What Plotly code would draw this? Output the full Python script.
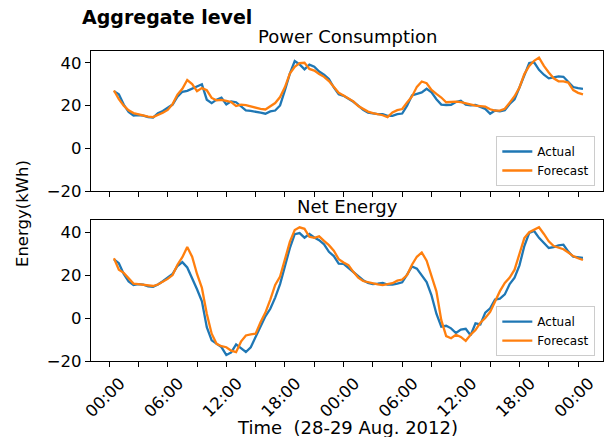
import plotly.graph_objects as go
from plotly.subplots import make_subplots

# ---------------- data (half-hourly, 28-29 Aug 2012) ----------------
pc_actual = [26.8, 25.3, 20.5, 17.0, 15.4, 15.6, 15.3, 14.6, 14.4, 16.4,
             17.5, 19.1, 20.5, 24.2, 26.5, 26.9, 28.0, 28.8, 30.0, 22.8,
             21.2, 22.8, 23.7, 20.6, 22.0, 21.6, 19.5, 17.8, 17.5, 17.2,
             16.7, 16.2, 17.3, 17.7, 20.1, 27.2, 35.0, 40.9, 39.3, 37.0,
             39.2, 38.2, 36.0, 34.5, 32.5, 28.5, 25.3, 24.6, 23.3, 21.8,
             20.0, 18.0, 16.7, 16.2, 16.0, 16.0, 15.2, 15.2, 16.0, 16.3,
             20.0, 24.8, 25.6, 26.2, 27.9, 26.2, 23.0, 20.5, 20.3, 20.4,
             21.7, 22.3, 20.5, 20.1, 20.3, 19.4, 18.5, 16.2, 17.7, 17.3,
             17.8, 20.8, 23.0, 28.5, 34.5, 40.0, 40.3, 36.8, 34.5, 32.8,
             33.2, 33.7, 33.5, 31.2, 28.7, 28.2, 27.9]
pc_forecast = [27.1, 23.0, 20.0, 17.8, 16.5, 15.9, 15.6, 14.8, 14.6, 15.5,
               16.7, 18.0, 20.7, 25.2, 27.9, 32.0, 30.1, 26.8, 28.2, 27.2,
               23.6, 22.5, 22.7, 22.2, 21.7, 19.8, 20.5, 20.2, 19.6, 19.0,
               18.5, 18.2, 19.6, 21.2, 24.0, 28.7, 35.0, 38.2, 39.9, 40.1,
               37.2, 36.4, 34.8, 33.5, 31.5, 29.0, 26.0, 24.7, 23.5, 22.0,
               19.8, 18.3, 17.2, 16.5, 16.1, 15.5, 14.6, 16.8, 17.9, 18.4,
               21.5, 24.3, 28.8, 31.3, 30.5, 27.4, 25.5, 23.8, 21.6, 21.9,
               21.9, 21.6, 21.1, 20.3, 20.0, 19.8, 19.5, 18.3, 17.7, 17.7,
               18.5, 21.4, 24.4, 28.5, 34.8, 38.6, 41.0, 42.5, 38.6, 35.5,
               32.8, 31.4, 31.4, 30.8, 27.3, 26.0, 25.3]
ne_actual = [27.3, 25.5, 20.5, 17.0, 15.3, 15.8, 15.5, 14.7, 14.5, 15.6,
             17.1, 18.7, 20.5, 24.2, 26.0, 23.5, 18.7, 13.4, 7.8, -4.3,
             -10.4, -12.0, -13.5, -17.2, -16.0, -12.3, -14.0, -15.8, -13.6, -9.0,
             -4.3, 0.8, 4.3, 9.5, 15.8, 23.8, 32.5, 39.0, 39.5, 37.4,
             39.1, 37.5, 36.2, 34.3, 30.8, 28.8, 25.3, 25.2, 23.3, 21.5,
             19.5, 17.6, 16.3, 15.8, 16.0, 16.3, 15.5, 15.5, 16.0, 16.6,
             20.2, 24.0, 23.0, 19.8, 16.7, 10.5, 2.0, -4.0, -3.6, -4.8,
             -7.0, -5.4, -5.0, -8.0, -2.5, -3.0, 2.5, 4.5, 8.6, 9.0,
             11.0, 15.8, 18.8, 24.5, 33.5, 39.6, 40.5, 37.3, 35.1, 32.6,
             33.0, 33.8, 34.1, 30.9, 28.5, 28.2, 28.0]
ne_forecast = [27.8, 22.5, 21.0, 18.5, 16.0, 15.8, 15.5, 15.2, 14.9, 15.6,
               16.8, 18.2, 20.0, 24.8, 28.3, 33.0, 28.5, 20.5, 14.0, 2.0,
               -7.3, -12.0, -13.1, -13.6, -15.2, -15.9, -11.0, -8.1, -7.6, -7.3,
               -2.0, 2.5, 8.6, 15.4, 19.3, 27.8, 35.4, 40.9, 42.2, 41.5,
               37.8, 37.3, 38.0, 35.9, 33.9, 31.3, 27.4, 25.8, 24.6, 21.5,
               18.8, 17.2, 16.6, 16.0, 15.6, 15.3, 15.6, 16.2, 17.4, 17.9,
               20.0, 24.8, 28.5, 30.5, 26.7, 19.5, 12.4, -1.0, -8.4, -9.4,
               -7.8, -8.8, -10.6, -7.8, -5.6, -2.2, 0.0, 2.8, 7.6, 12.5,
               16.3, 18.8, 22.5, 30.3, 37.2, 39.9, 41.0, 42.2, 39.1, 35.7,
               33.5, 32.8, 32.0, 30.5, 28.8, 27.8, 27.0]

time_h = [0.5 * i for i in range(len(pc_actual))]  # hours since start

tick_pos = [-0.5 + 3 * k for k in range(17)]
tick_labels = ["00:00", "", "06:00", "", "12:00", "", "18:00", "",
               "00:00", "", "06:00", "", "12:00", "", "18:00", "", "00:00"]
y_ticks = [-20, 0, 20, 40]

BLUE = "#1f77b4"
ORANGE = "#ff7f0e"
FONT = "DejaVu Sans"

fig = make_subplots(rows=2, cols=1, shared_xaxes=True)

fig.add_trace(go.Scatter(x=time_h, y=pc_actual, mode="lines", name="Actual",
                         line=dict(color=BLUE, width=2.3), legend="legend"), row=1, col=1)
fig.add_trace(go.Scatter(x=time_h, y=pc_forecast, mode="lines", name="Forecast",
                         line=dict(color=ORANGE, width=2.3), legend="legend"), row=1, col=1)
fig.add_trace(go.Scatter(x=time_h, y=ne_actual, mode="lines", name="Actual",
                         line=dict(color=BLUE, width=2.3), legend="legend2"), row=2, col=1)
fig.add_trace(go.Scatter(x=time_h, y=ne_forecast, mode="lines", name="Forecast",
                         line=dict(color=ORANGE, width=2.3), legend="legend2"), row=2, col=1)

axis_common = dict(showline=True, linecolor="black", linewidth=1.3, mirror=True,
                   ticks="outside", ticklen=5, tickwidth=1.2, tickcolor="black",
                   showgrid=False, zeroline=False,
                   tickfont=dict(family=FONT, size=16.5, color="black"))

fig.update_xaxes(range=[-2.35, 50.05], tickmode="array", tickvals=tick_pos,
                 ticktext=tick_labels, **axis_common)
fig.update_xaxes(showticklabels=False, row=1, col=1)
fig.update_xaxes(tickangle=-45, ticklabelshift=11, row=2, col=1)
fig.update_yaxes(range=[-20, 45.6], tickmode="array", tickvals=y_ticks, **axis_common)

fig.update_layout(
    xaxis=dict(domain=[0, 1]),
    yaxis=dict(domain=[0.5484, 1.0]),
    yaxis2=dict(domain=[0.0, 0.4548]),
)

legend_common = dict(bgcolor="rgba(255,255,255,0.8)", bordercolor="#cccccc", borderwidth=1,
                     font=dict(family=FONT, size=12, color="black"),
                     xanchor="right", yanchor="bottom", tracegroupgap=0)

fig.update_layout(
    width=604, height=437,
    margin=dict(l=91, r=1, t=51, b=76),
    paper_bgcolor="white", plot_bgcolor="white",
    font=dict(family=FONT, color="black"),
    legend=dict(x=0.985, y=0.5645, **legend_common),
    legend2=dict(x=0.985, y=0.016, **legend_common),
    annotations=[
        dict(text="<b>Aggregate level</b>", xref="paper", yref="paper", x=-0.0215, y=1.11,
             xanchor="left", yanchor="middle", showarrow=False,
             font=dict(family=FONT, size=19, color="black")),
        dict(text="Power Consumption", xref="paper", yref="paper", x=0.5, y=1.048,
             xanchor="center", yanchor="middle", showarrow=False,
             font=dict(family=FONT, size=18, color="black")),
        dict(text="Net Energy", xref="paper", yref="paper", x=0.5, y=0.497,
             xanchor="center", yanchor="middle", showarrow=False,
             font=dict(family=FONT, size=18, color="black")),
        dict(text="Energy(kWh)", xref="paper", yref="paper", x=-0.135, y=0.477,
             xanchor="center", yanchor="middle", showarrow=False, textangle=-90,
             font=dict(family=FONT, size=16.5, color="black")),
        dict(text="Time  (28-29 Aug. 2012)", xref="paper", yref="paper", x=0.5, y=-0.213,
             xanchor="center", yanchor="middle", showarrow=False,
             font=dict(family=FONT, size=18, color="black")),
    ],
)

fig.write_html("out.html")
